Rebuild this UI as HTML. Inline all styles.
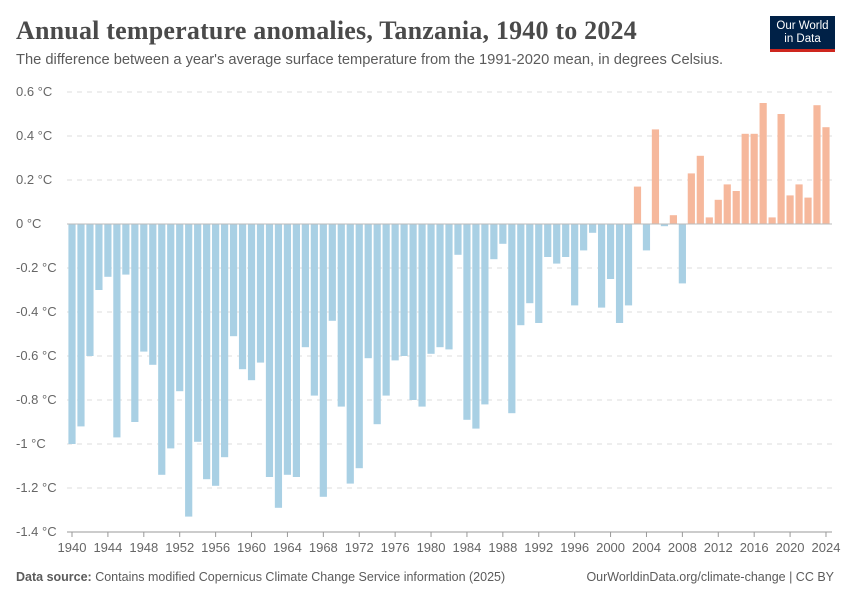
<!DOCTYPE html>
<html><head><meta charset="utf-8"><style>
body{margin:0;background:#fff;width:850px;height:600px;overflow:hidden;font-family:"Liberation Sans",sans-serif}
.t{position:absolute;left:16px;top:16px;font-family:"Liberation Serif",serif;font-size:26px;font-weight:bold;color:#4a4a4a;letter-spacing:0.2px}
.s{position:absolute;left:16px;top:52px;font-size:14.7px;color:#5b5b5b}
.f{position:absolute;top:570px;font-size:12.5px;color:#5b5b5b}
.logo{position:absolute;left:770px;top:16px;width:65px;height:36px;background:#002147;color:#fff;font-size:11.5px;text-align:center;line-height:13px;padding-top:4px;box-sizing:border-box;border-bottom:3px solid #ce261e}
</style></head><body>
<div class="t">Annual temperature anomalies, Tanzania, 1940 to 2024</div>
<div class="s">The difference between a year's average surface temperature from the 1991-2020 mean, in degrees Celsius.</div>
<div class="logo">Our World<br>in Data</div>
<svg id="c" width="850" height="600" style="position:absolute;left:0;top:0"></svg>
<div class="f" style="left:16px"><b>Data source:</b> Contains modified Copernicus Climate Change Service information (2025)</div>
<div class="f" style="right:16px">OurWorldinData.org/climate-change | CC BY</div>
<script>
const startYear=1940;
const values=[-1.00,-0.92,-0.60,-0.30,-0.24,-0.97,-0.23,-0.90,-0.58,-0.64,-1.14,-1.02,-0.76,-1.33,-0.99,-1.16,-1.19,-1.06,-0.51,-0.66,-0.71,-0.63,-1.15,-1.29,-1.14,-1.15,-0.56,-0.78,-1.24,-0.44,-0.83,-1.18,-1.11,-0.61,-0.91,-0.78,-0.62,-0.60,-0.80,-0.83,-0.59,-0.56,-0.57,-0.14,-0.89,-0.93,-0.82,-0.16,-0.09,-0.86,-0.46,-0.36,-0.45,-0.15,-0.18,-0.15,-0.37,-0.12,-0.04,-0.38,-0.25,-0.45,-0.37,0.17,-0.12,0.43,-0.01,0.04,-0.27,0.23,0.31,0.03,0.11,0.18,0.15,0.41,0.41,0.55,0.03,0.50,0.13,0.18,0.12,0.54,0.44];
const yTicks=[0.6,0.4,0.2,0,-0.2,-0.4,-0.6,-0.8,-1,-1.2,-1.4];
const xTicks=[1940,1944,1948,1952,1956,1960,1964,1968,1972,1976,1980,1984,1988,1992,1996,2000,2004,2008,2012,2016,2020,2024];
const svg=document.getElementById('c'),NS='http://www.w3.org/2000/svg';
const y=v=>224-v*220, x=yr=>72+(yr-1940)*8.976;
function el(t,a,txt){const e=document.createElementNS(NS,t);for(const k in a)e.setAttribute(k,a[k]);if(txt!=null)e.textContent=txt;svg.appendChild(e);return e;}
yTicks.forEach(v=>{
 if(v!==0){const g=el('line',{x1:67,x2:832,y1:y(v),y2:y(v),stroke:'#ddd','stroke-dasharray':'5,5'});
 
 }
 const t=el('text',{x:16,y:y(v)+4,'font-size':13,fill:'#666'},(v===0?'0':String(v))+' °C');
 
 
});
values.forEach((v,i)=>{
 const yr=startYear+i,cx=x(yr);
 const r=el('rect',{x:cx-3.6,width:7.2,y:Math.min(y(v),224),height:Math.abs(y(v)-224),fill:v>=0?'#f6b89c':'#a9d0e4'});
 
 
});
const z=el('line',{x1:67,x2:832,y1:224,y2:224,stroke:'#bbb','stroke-width':1});


xTicks.forEach(yr=>{
 const tk=el('line',{x1:x(yr),x2:x(yr),y1:532,y2:537,stroke:'#999'});
 
 
 const t=el('text',{x:x(yr),y:552,'font-size':13,fill:'#666','text-anchor':'middle'},yr);
 
 
});
const ax=el('line',{x1:67,x2:832,y1:532,y2:532,stroke:'#999'});


</script>
</body></html>
